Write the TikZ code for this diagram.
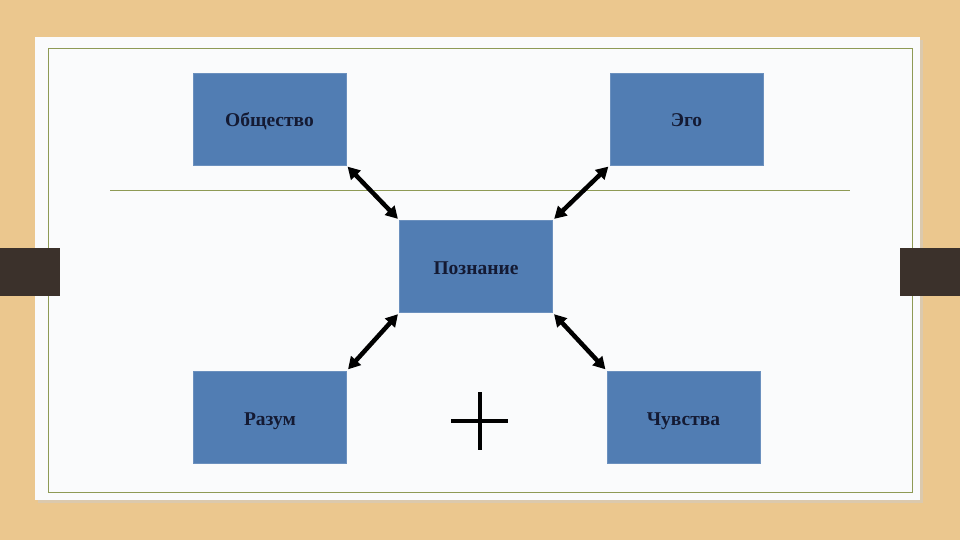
\documentclass[tikz,border=0pt]{standalone}
\usepackage{fontspec}
\setmainfont{Liberation Serif}
\usetikzlibrary{arrows.meta}
\definecolor{wood}{HTML}{EBC78E}
\definecolor{card}{HTML}{FAFBFC}
\definecolor{olive}{HTML}{8E9A55}
\definecolor{tab}{HTML}{3B312B}
\definecolor{boxblue}{HTML}{517DB3}
\definecolor{navy}{HTML}{141A33}
\tikzset{
    bluebox/.style={draw=boxblue!85!white, fill=boxblue, minimum width=153pt, minimum height=92pt, inner sep=0pt, text height=16pt, text depth=0pt, font=\fontsize{19.5}{22}\selectfont\bfseries, text=navy},
    link/.style={{Triangle[length=12pt,width=13pt]}-{Triangle[length=12pt,width=13pt]}, line width=4.5pt, shorten <=2pt, shorten >=2pt}
}
\begin{document}
\begin{tikzpicture}[x=1pt, y=-1pt]
    \fill[wood] (0,0) rectangle (960,540);
    \useasboundingbox (0,0) rectangle (960,540);
    \fill[black!20, opacity=0.5] (38,40) rectangle (923,503);
    \fill[card] (35,37) rectangle (920,500);
    \draw[olive, line width=0.8pt] (48,48) rectangle (912,492);
    \draw[olive, line width=0.8pt] (110,190) -- (850,190);
    \fill[tab] (0,248) rectangle (60,296);
    \fill[tab] (900,248) rectangle (960,296);
    \node[bluebox] (obsh) at (269.5,119) {Общество};
    \node[bluebox] (ego) at (686.5,119) {Эго};
    \node[bluebox] (pozn) at (476,266.5) {Познание};
    \node[bluebox] (razum) at (270,417) {Разум};
    \node[bluebox] (chuv) at (683.5,417) {Чувства};
    \draw[link] (obsh.south east) -- (pozn.north west);
    \draw[link] (ego.south west) -- (pozn.north east);
    \draw[link] (pozn.south west) -- (razum.north east);
    \draw[link] (pozn.south east) -- (chuv.north west);
    \draw[line width=3.5pt] (480,392) -- (480,450);
    \draw[line width=3.5pt] (451,421) -- (508,421);
\end{tikzpicture}
\end{document}
